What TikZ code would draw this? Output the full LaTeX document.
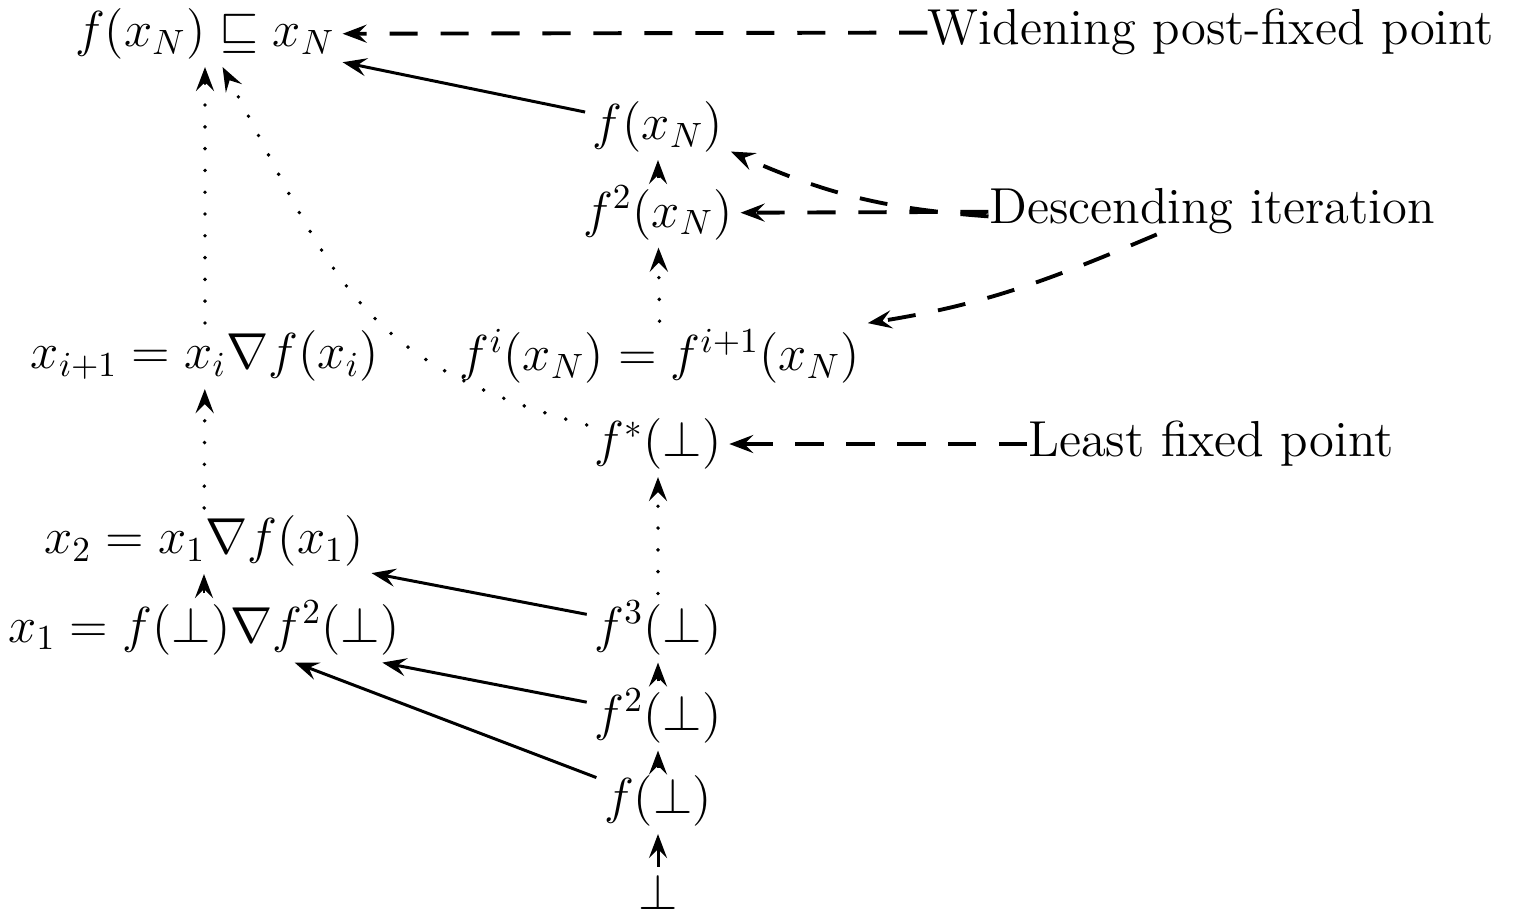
\documentclass[tikz,border=0pt]{standalone}
\usepackage{amsmath,amssymb}
\usetikzlibrary{arrows.meta,positioning}

\begin{document}
\begin{tikzpicture}[
    every node/.style={font=\Large, inner sep=2pt},
    arrow/.style={-{Stealth[length=2.4mm,width=1.8mm,inset=0.9mm]}, line width=0.85pt},
    dasharrow/.style={arrow, line width=1.1pt, dash pattern=on 8pt off 6.5pt},
    dotarrow/.style={arrow, line width=1.1pt, line cap=round, dash pattern=on 0pt off 6.2pt},
    note/.style={font=\Large, inner sep=0pt}
]
\useasboundingbox (0,0) rectangle (15.15,9.08);

% Nodes
\node (top) at (2.05, 8.74) {$f(x_N) \sqsubseteq x_N$};
\node (fxN) at (6.58, 7.81) {$f(x_N)$};
\node (f2xN) at (6.58, 6.95) {$f^2(x_N)$};
\node (xi1) at (2.05, 5.52) {$x_{i+1} = x_i \nabla f(x_i)$};
\node (fixN) at (6.60, 5.52) {$f^i(x_N) = f^{i+1}(x_N)$};
\node (fstar) at (6.58, 4.64) {$f^*(\bot)$};
\node (x2) at (2.04, 3.67) {$x_2 = x_1 \nabla f(x_1)$};
\node (x1) at (2.04, 2.80) {$x_1 = f(\bot) \nabla f^2(\bot)$};
\node (f3) at (6.58, 2.80) {$f^3(\bot)$};
\node (f2) at (6.58, 1.92) {$f^2(\bot)$};
\node (f1) at (6.58, 1.07) {$f(\bot)$};
\node (bot) at (6.58, 0.16) {$\bot$};

% Labels
\node[note] (wide) at (12.11, 8.76) {Widening post-fixed point};
\node[note] (desc) at (12.12, 6.97) {Descending iteration};
\node[note] (least) at (12.11, 4.64) {Least fixed point};

% Arrows
\draw[arrow] (bot) -- (f1);
\draw[arrow] (f1) -- (f2);
\draw[arrow] (f2) -- (f3);
\draw[dotarrow] (f3) -- (fstar);
\draw[arrow] (f1) -- (x1);
\draw[arrow] (f2) -- (x1);
\draw[arrow] (f3) -- (x2);
\draw[arrow] (x1) -- (x2);
\draw[dotarrow] (x2) -- (xi1);
\draw[dotarrow] (xi1) -- (top);
\draw[dotarrow] (fstar) to[out=165, in=-62, looseness=1.2] (top);
\draw[dotarrow] (fixN) -- (f2xN);
\draw[arrow] (f2xN) -- (fxN);
\draw[arrow] (fxN) -- (top);

% Label arrows
\draw[dasharrow] (wide) -- (top);
\draw[dasharrow] (desc) to[bend left=10] (fxN);
\draw[dasharrow] (desc) -- (f2xN);
\draw[dasharrow] (desc) to[out=203, in=9] (fixN);
\draw[dasharrow] (least) -- (fstar);

\end{tikzpicture}
\end{document}
